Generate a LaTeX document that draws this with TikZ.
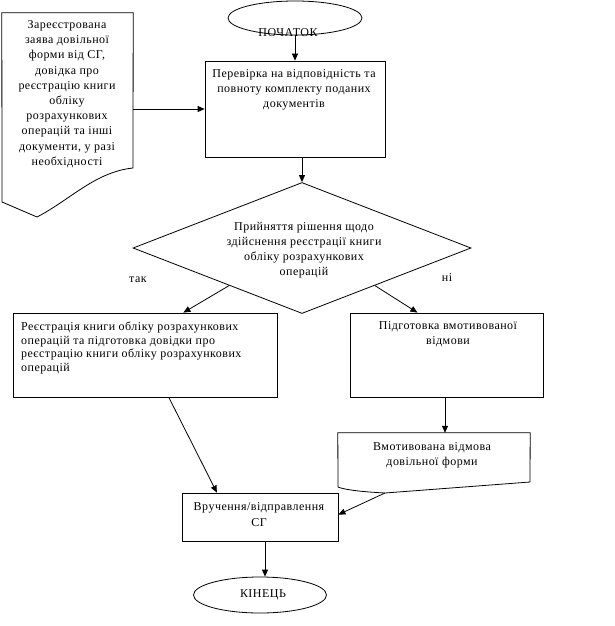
\documentclass[tikz,border=0pt]{standalone}
\usepackage{fontspec}
\setmainfont{Liberation Serif}[LetterSpace=4]
\usetikzlibrary{arrows.meta,shapes.geometric,calc}
\tikzset{
  shp/.style={draw=black,line width=0.8pt},
  boxn/.style={shp,rectangle,inner sep=0pt},
  ghost/.style={rectangle,inner sep=0pt,draw=none},
  ovaln/.style={shp,ellipse,inner sep=0pt},
  txt/.style={align=center,inner sep=0pt,font=\fontsize{12}{15.2}\selectfont},
  txtl/.style={align=left,inner sep=0pt,font=\fontsize{12}{13.5}\selectfont},
  arr/.style={draw=black,line width=0.8pt,-{Triangle[length=7pt,width=6pt]}},
  ln/.style={draw=black,line width=0.8pt}
}
\begin{document}
\begin{tikzpicture}[x=1pt,y=-1pt]
\useasboundingbox[fill=white] (0,0) rectangle (614,626);
% document 1
\node[ghost,minimum width=131pt,minimum height=192pt] (doc1) at (67.5,109) {};
\draw[shp] (doc1.north west) -- (doc1.north east) -- (133,168)
  .. controls (95,172) and (70,200) .. (37,217) -- (2,202) -- cycle;
\node[txt] (doc1t) at (67,94) {Зареєстрована\\заява довільної\\форми від СГ,\\довідка про\\реєстрацію книги\\обліку\\розрахункових\\операцій та інші\\документи, у разі\\необхідності};
% start
\node[ovaln,minimum width=134pt,minimum height=34pt] (start) at (295,18) {};
\node[txt] (startt) at (288,33) {ПОЧАТОК};
% process
\node[boxn,minimum width=180pt,minimum height=96pt] (proc) at (295,109) {};
\node[txt] (proct) at (294,90) {Перевірка на відповідність та\\повноту комплекту поданих\\документів};
% decision
\node[shp,diamond,inner sep=0pt,minimum width=338pt,minimum height=131pt] (dia) at (302,248) {};
\node[txt] (diat) at (304,250) {Прийняття рішення щодо\\здійснення реєстрації книги\\обліку розрахункових\\операцій};
\node[txt] (yes) at (138,280) {так};
\node[txt] (no) at (447,278) {ні};
% left box
\node[boxn,minimum width=264pt,minimum height=84pt] (lbox) at (145,355) {};
\node[txtl,anchor=west] (lboxt) at (21,348) {Реєстрація книги обліку розрахункових\\операцій та підготовка  довідки про\\реєстрацію книги обліку  розрахункових\\операцій};
% right box
\node[boxn,minimum width=193pt,minimum height=84pt] (rbox) at (446.5,355) {};
\node[txt] (rboxt) at (448,334.5) {Підготовка вмотивованої\\відмови};
% document 2
\node[ghost,minimum width=192pt,minimum height=60pt] (doc2) at (434,463) {};
\draw[shp] (doc2.north west) -- (doc2.north east) -- (530,482) -- (385,493)
  .. controls (365,492) and (345,490) .. (338,487) -- cycle;
\coordinate (doc2b) at (385,493);
\node[txt] (doc2t) at (432,455) {Вмотивована відмова\\довільної форми};
% delivery box
\node[boxn,minimum width=156pt,minimum height=48pt] (dbox) at (260,517) {};
\node[txt] (dboxt) at (259,514.5) {Вручення/відправлення\\СГ};
% end
\node[ovaln,minimum width=133pt,minimum height=36pt] (fin) at (260,595) {};
\node[txt] (fint) at (263,595) {КІНЕЦЬ};
% connectors
\draw[arr] (doc1.east) -- (proc.west);
\draw[arr] (start.south) -- (start.south |- proc.north);
\draw[arr] (proc.south -| dia.north) -- (dia.north);
\draw[arr] ($(dia.west)!0.57!(dia.south)$) -- ($(lbox.north west)!0.645!(lbox.north east)$);
\draw[arr] ($(dia.east)!0.57!(dia.south)$) -- ($(rbox.north west)!0.35!(rbox.north east)$);
\draw[arr] (rbox.south -| doc2.north) ++(11,0) coordinate (rs) -- (rs |- doc2.north);
\draw[arr] ($(lbox.south west)!0.59!(lbox.south east)$) -- ($(dbox.north west)!0.225!(dbox.north east)$);
\draw[arr] (doc2b) -- ($(dbox.north east)!0.45!(dbox.south east)$);
\draw[arr] (dbox.south -| fin.north) ++(5,0) coordinate (ds) -- (ds |- fin.north);
\end{tikzpicture}
\end{document}
